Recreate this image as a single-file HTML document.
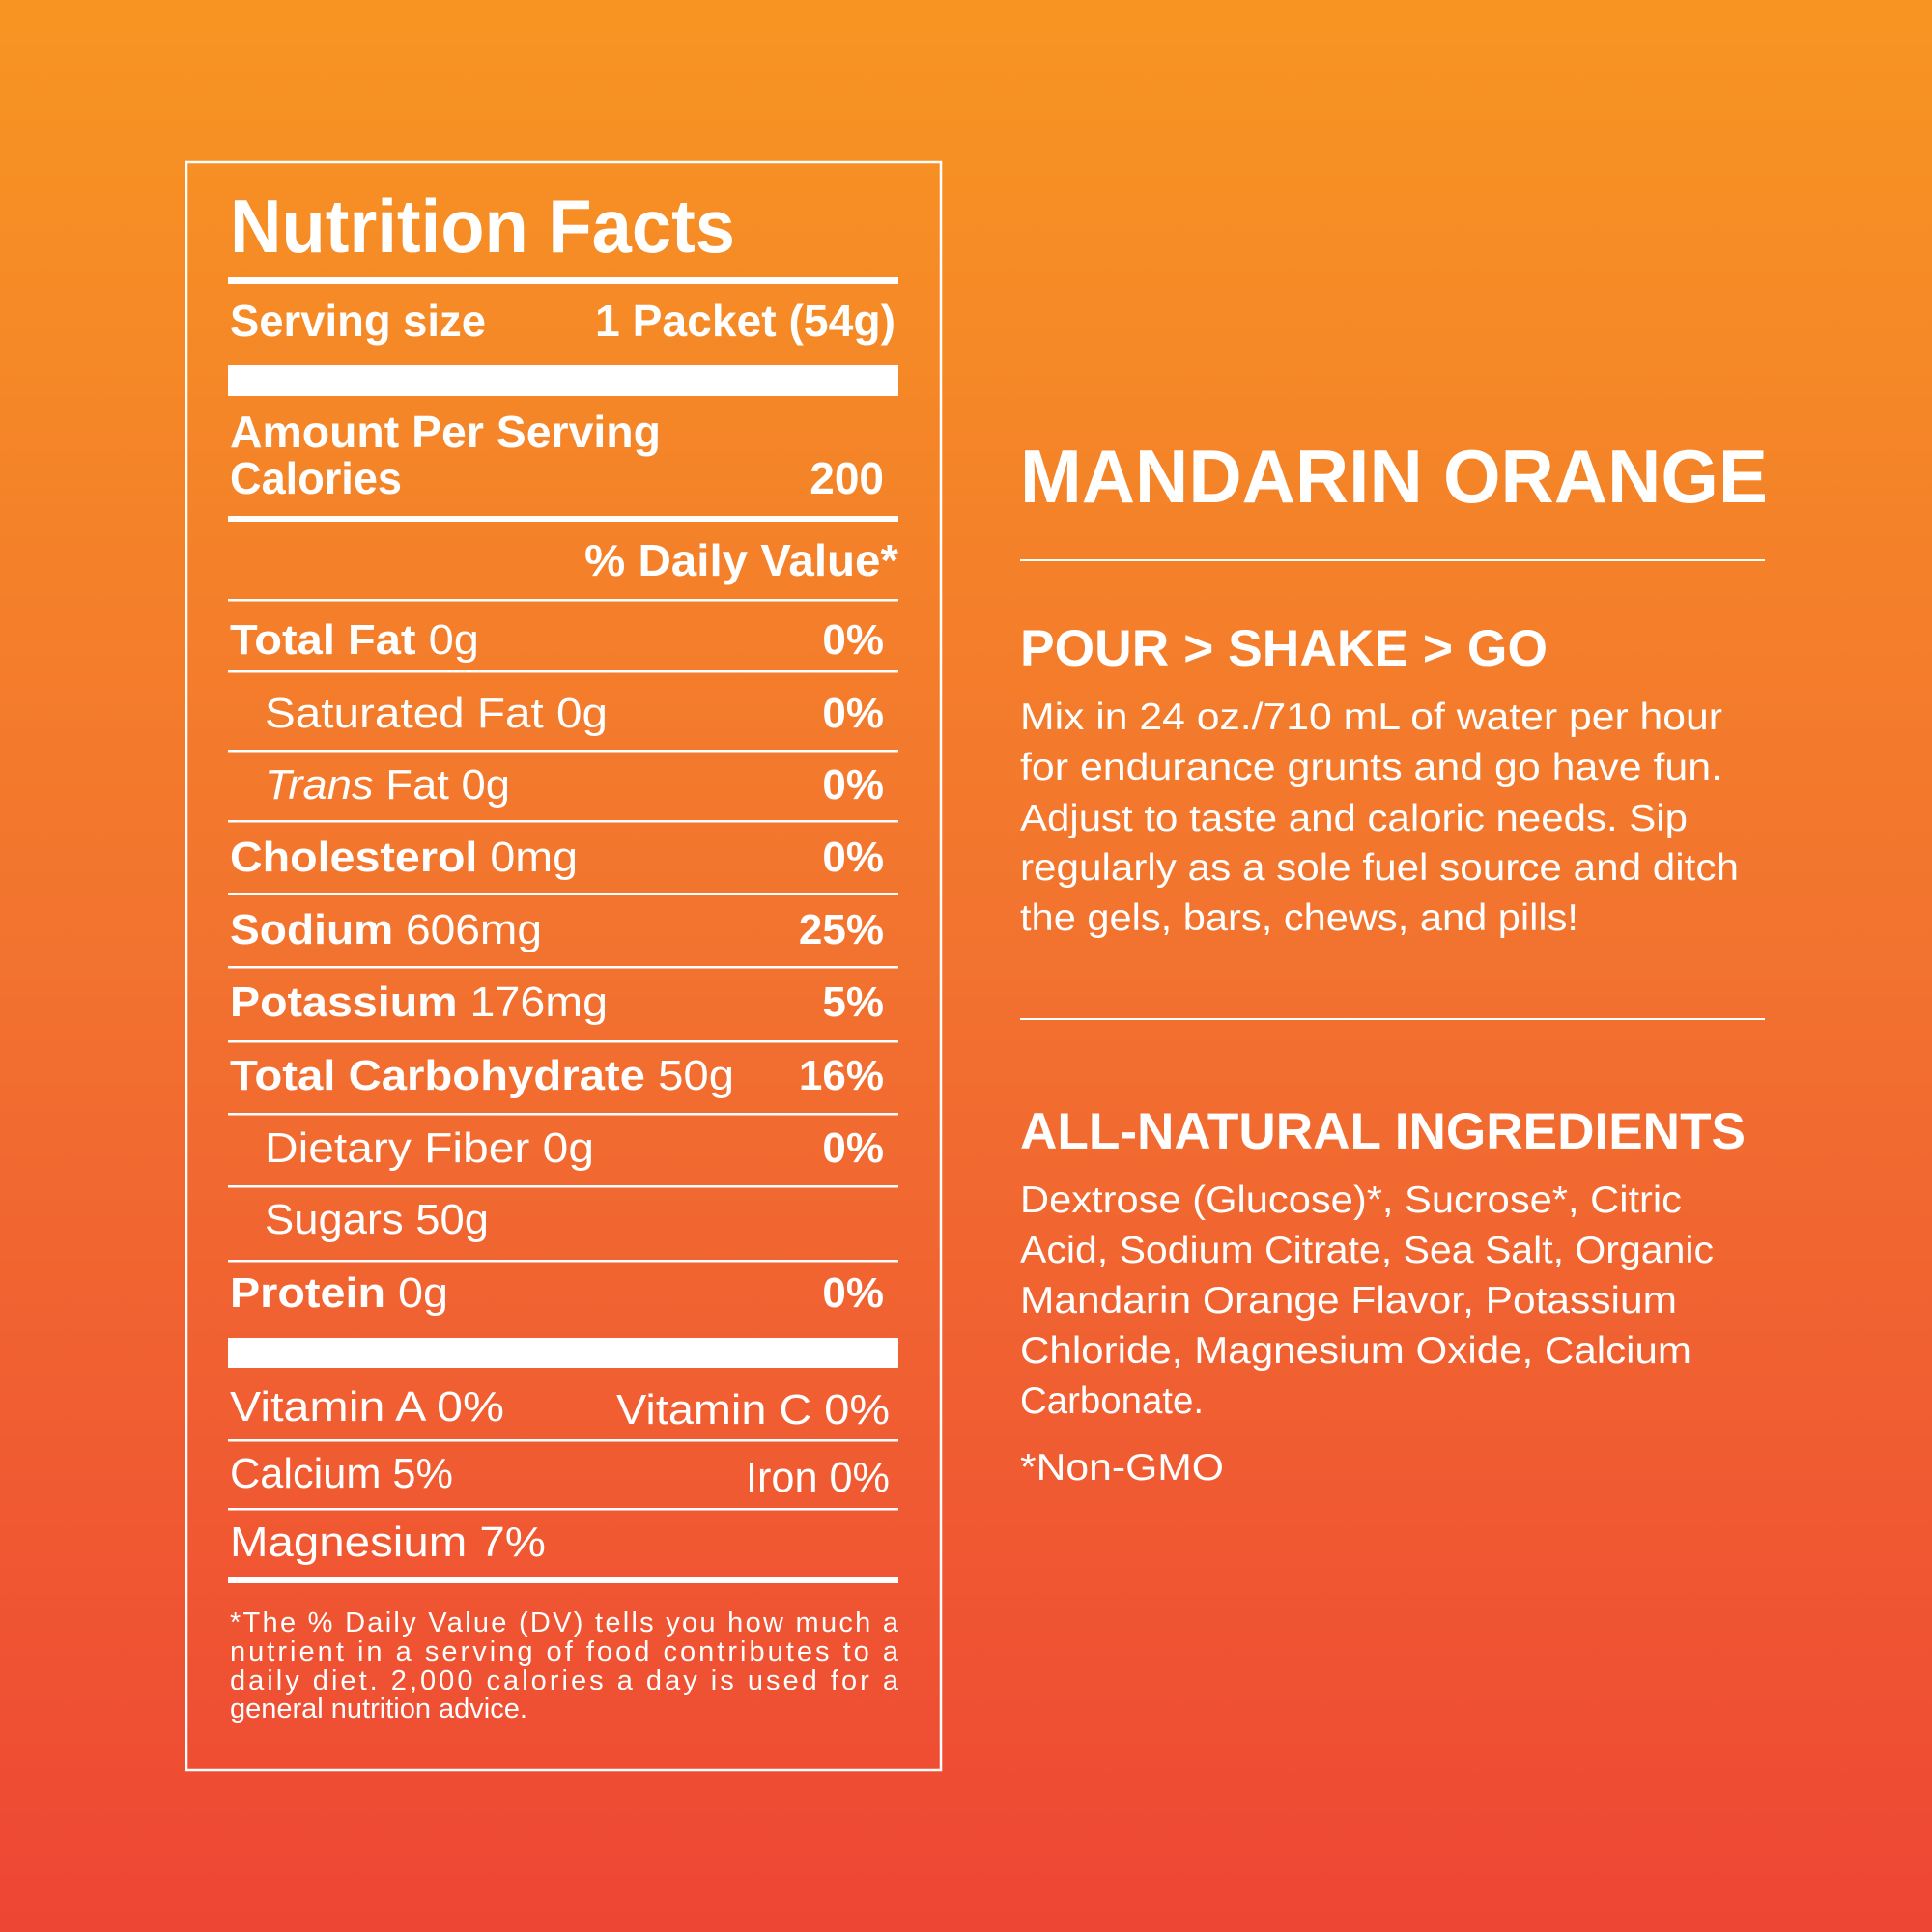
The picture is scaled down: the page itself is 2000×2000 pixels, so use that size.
<!DOCTYPE html>
<html><head><meta charset="utf-8"><style>
html,body{margin:0;padding:0;width:2000px;height:2000px;overflow:hidden}
svg{display:block}
text{font-family:"Liberation Sans",sans-serif;fill:#fff}
.b{font-weight:bold}
</style></head><body>
<svg width="2000" height="2000" viewBox="0 0 2000 2000" xmlns="http://www.w3.org/2000/svg">
<defs><linearGradient id="g" x1="0" y1="0" x2="0" y2="1">
<stop offset="0" stop-color="#F79522"/><stop offset="0.5" stop-color="#F2722F"/><stop offset="1" stop-color="#EE4634"/></linearGradient></defs>
<rect width="2000" height="2000" fill="url(#g)"/>
<rect x="193" y="168" width="781" height="1664" fill="none" stroke="#fff" stroke-width="2.5"/>
<g lengthAdjust="spacingAndGlyphs">
<text x="238" y="261" class="b" font-size="78" textLength="523" lengthAdjust="spacingAndGlyphs">Nutrition Facts</text>
<rect x="236" y="287" width="694" height="7" fill="#fff"/>
<text x="238" y="348" class="b" font-size="46" textLength="265" lengthAdjust="spacingAndGlyphs">Serving size</text>
<text x="616" y="348" class="b" font-size="46" textLength="311" lengthAdjust="spacingAndGlyphs">1 Packet (54g)</text>
<rect x="236" y="378" width="694" height="32" fill="#fff"/>
<text x="238" y="463" class="b" font-size="46" textLength="446" lengthAdjust="spacingAndGlyphs">Amount Per Serving</text>
<text x="238" y="511" class="b" font-size="46" textLength="178" lengthAdjust="spacingAndGlyphs">Calories</text>
<text x="915" y="511" class="b" font-size="46" text-anchor="end">200</text>
<rect x="236" y="534" width="694" height="6" fill="#fff"/>
<text x="605" y="596" class="b" font-size="46" textLength="325" lengthAdjust="spacingAndGlyphs">% Daily Value*</text>
<g fill="#fff">
<rect x="236" y="620" width="694" height="2.5"/>
<rect x="236" y="694" width="694" height="2.5"/>
<rect x="236" y="776" width="694" height="2.5"/>
<rect x="236" y="849" width="694" height="2.5"/>
<rect x="236" y="924" width="694" height="2.5"/>
<rect x="236" y="1000" width="694" height="2.5"/>
<rect x="236" y="1077" width="694" height="2.5"/>
<rect x="236" y="1152" width="694" height="2.5"/>
<rect x="236" y="1227" width="694" height="2.5"/>
<rect x="236" y="1304" width="694" height="2.5"/>
<rect x="236" y="1385" width="694" height="31"/>
<rect x="236" y="1490" width="694" height="2.5"/>
<rect x="236" y="1561" width="694" height="2.5"/>
<rect x="236" y="1633" width="694" height="6"/>
</g>
<g font-size="44">
<text x="238" y="677" textLength="258" lengthAdjust="spacingAndGlyphs"><tspan class="b">Total Fat</tspan> 0g</text>
<text x="274" y="753" textLength="355" lengthAdjust="spacingAndGlyphs">Saturated Fat 0g</text>
<text x="274" y="827" textLength="254" lengthAdjust="spacingAndGlyphs"><tspan font-style="italic">Trans</tspan> Fat 0g</text>
<text x="238" y="902" textLength="360" lengthAdjust="spacingAndGlyphs"><tspan class="b">Cholesterol</tspan> 0mg</text>
<text x="238" y="977" textLength="323" lengthAdjust="spacingAndGlyphs"><tspan class="b">Sodium</tspan> 606mg</text>
<text x="238" y="1052" textLength="391" lengthAdjust="spacingAndGlyphs"><tspan class="b">Potassium</tspan> 176mg</text>
<text x="238" y="1128" textLength="522" lengthAdjust="spacingAndGlyphs"><tspan class="b">Total Carbohydrate</tspan> 50g</text>
<text x="274" y="1203" textLength="341" lengthAdjust="spacingAndGlyphs">Dietary Fiber 0g</text>
<text x="274" y="1277" textLength="232" lengthAdjust="spacingAndGlyphs">Sugars 50g</text>
<text x="238" y="1353" textLength="226" lengthAdjust="spacingAndGlyphs"><tspan class="b">Protein</tspan> 0g</text>
<g class="b" text-anchor="end">
<text x="915" y="677">0%</text><text x="915" y="753">0%</text><text x="915" y="827">0%</text>
<text x="915" y="902">0%</text><text x="915" y="977">25%</text><text x="915" y="1052">5%</text>
<text x="915" y="1128">16%</text><text x="915" y="1203">0%</text><text x="915" y="1353">0%</text>
</g>
<text x="238" y="1471" textLength="284" lengthAdjust="spacingAndGlyphs">Vitamin A 0%</text>
<text x="638" y="1474" textLength="283" lengthAdjust="spacingAndGlyphs">Vitamin C 0%</text>
<text x="238" y="1540" textLength="231" lengthAdjust="spacingAndGlyphs">Calcium 5%</text>
<text x="772" y="1544" textLength="149" lengthAdjust="spacingAndGlyphs">Iron 0%</text>
<text x="238" y="1611" textLength="327" lengthAdjust="spacingAndGlyphs">Magnesium 7%</text>
</g>
<g font-size="29">
<text x="238" y="1689" textLength="692" lengthAdjust="spacing">*The % Daily Value (DV) tells you how much a</text>
<text x="238" y="1719" textLength="692" lengthAdjust="spacing">nutrient in a serving of food contributes to a</text>
<text x="238" y="1749" textLength="692" lengthAdjust="spacing">daily diet. 2,000 calories a day is used for a</text>
<text x="238" y="1778">general nutrition advice.</text>
</g>
<text x="1056" y="520" class="b" font-size="78" textLength="774" lengthAdjust="spacingAndGlyphs">MANDARIN ORANGE</text>
<rect x="1056" y="579" width="771" height="2" fill="#fff"/>
<text x="1056" y="689" class="b" font-size="53" textLength="546" lengthAdjust="spacingAndGlyphs">POUR &gt; SHAKE &gt; GO</text>
<g font-size="39">
<text x="1056" y="755" textLength="727" lengthAdjust="spacingAndGlyphs">Mix in 24 oz./710 mL of water per hour</text>
<text x="1056" y="807" textLength="727" lengthAdjust="spacingAndGlyphs">for endurance grunts and go have fun.</text>
<text x="1056" y="860" textLength="691" lengthAdjust="spacingAndGlyphs">Adjust to taste and caloric needs. Sip</text>
<text x="1056" y="911" textLength="744" lengthAdjust="spacingAndGlyphs">regularly as a sole fuel source and ditch</text>
<text x="1056" y="963" textLength="578" lengthAdjust="spacingAndGlyphs">the gels, bars, chews, and pills!</text>
</g>
<rect x="1056" y="1054" width="771" height="2" fill="#fff"/>
<text x="1056" y="1189" class="b" font-size="53" textLength="751" lengthAdjust="spacingAndGlyphs">ALL-NATURAL INGREDIENTS</text>
<g font-size="39">
<text x="1056" y="1255" textLength="685" lengthAdjust="spacingAndGlyphs">Dextrose (Glucose)*, Sucrose*, Citric</text>
<text x="1056" y="1307" textLength="718" lengthAdjust="spacingAndGlyphs">Acid, Sodium Citrate, Sea Salt, Organic</text>
<text x="1056" y="1359" textLength="680" lengthAdjust="spacingAndGlyphs">Mandarin Orange Flavor, Potassium</text>
<text x="1056" y="1411" textLength="695" lengthAdjust="spacingAndGlyphs">Chloride, Magnesium Oxide, Calcium</text>
<text x="1056" y="1463" textLength="190" lengthAdjust="spacingAndGlyphs">Carbonate.</text>
<text x="1056" y="1532" textLength="211" lengthAdjust="spacingAndGlyphs">*Non-GMO</text>
</g>
</g>
</svg>
</body></html>
